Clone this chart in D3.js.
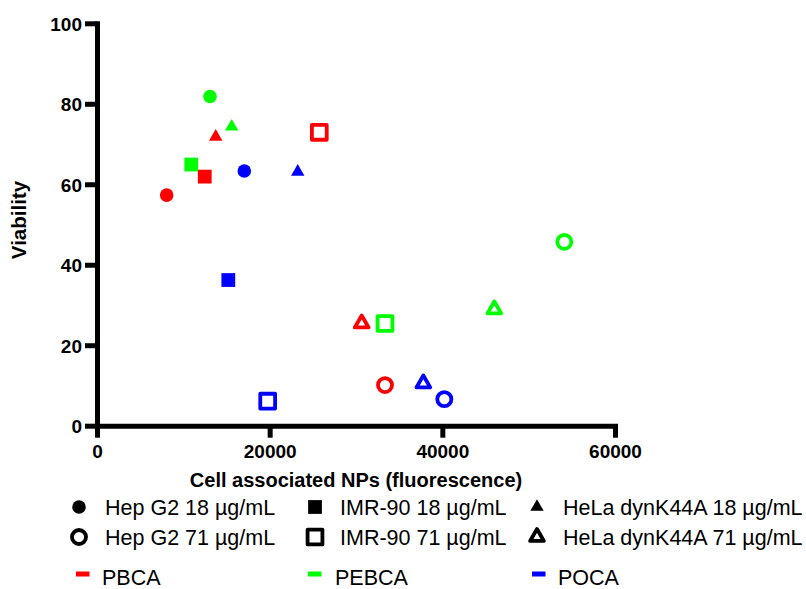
<!DOCTYPE html>
<html>
<head>
<meta charset="utf-8">
<script src="https://cdn.jsdelivr.net/npm/d3@7"></script>
<style>
  body { margin: 0; background: #fff; }
  svg { display: block; font-family: "Liberation Sans", Arial, sans-serif; }
</style>
</head>
<body>
<svg id="chart" width="806" height="589"></svg>
<script>
// polymers -> colours
const polymers = ['PBCA', 'PEBCA', 'POCA'];
const polymerColors = ['#ff0000', '#00ff00', '#0000ff'];

// cell line / dose groups
const groups = [
  'Hep G2 18 µg/mL', 'IMR-90 18 µg/mL', 'HeLa dynK44A 18 µg/mL',
  'Hep G2 71 µg/mL', 'IMR-90 71 µg/mL', 'HeLa dynK44A 71 µg/mL',
];

// values per group, order PBCA, PEBCA, POCA
const hepG2_18_x = [8070, 13090, 17060];
const hepG2_18_y = [57.3, 81.8, 63.3];
const imr90_18_x = [12480, 10920, 15210];
const imr90_18_y = [61.9, 64.9, 36.2];
const hela_18_x = [13750, 15600, 23250];
const hela_18_y = [71.8, 74.3, 63.1];
const hepG2_71_x = [33360, 54130, 40230];
const hepG2_71_y = [10.1, 45.7, 6.6];
const imr90_71_x = [25750, 33360, 19770];
const imr90_71_y = [72.9, 25.4, 6.1];
const hela_71_x = [30660, 46020, 37800];
const hela_71_y = [25.4, 28.9, 10.5];

const xTicks = [0, 20000, 40000, 60000];
const yTicks = [0, 20, 40, 60, 80, 100];

const groupX = [hepG2_18_x, imr90_18_x, hela_18_x, hepG2_71_x, imr90_71_x, hela_71_x];
const groupY = [hepG2_18_y, imr90_18_y, hela_18_y, hepG2_71_y, imr90_71_y, hela_71_y];
const shapes = [d3.symbolCircle, d3.symbolSquare, d3.symbolTriangle];

const svg = d3.select('#chart');

const x = d3.scaleLinear().domain([0, 60000]).range([97, 615]);
const y = d3.scaleLinear().domain([0, 100]).range([425.7, 23.3]);

// marker path for group index g (0-2 filled, 3-5 open)
const marker = (g) => {
  const open = g >= 3;
  const type = shapes[g % 3];
  let size;
  if (type === d3.symbolCircle) size = open ? 155 : 145;
  else if (type === d3.symbolSquare) size = open ? 220 : 190;
  else size = open ? 82 : 78;
  return d3.symbol().type(type).size(size)();
};

const styleMarker = (sel, g, color) => {
  if (g >= 3) {
    sel.attr('fill', 'none').attr('stroke', color)
      .attr('stroke-width', 3.8).attr('stroke-linejoin', 'round');
  } else {
    sel.attr('fill', color);
  }
};

// axes
const yAxis = d3.axisLeft(y).tickValues(yTicks).tickSize(12).tickSizeOuter(0).tickPadding(3);
const xAxis = d3.axisBottom(x).tickValues(xTicks).tickSize(12).tickSizeOuter(0).tickFormat(d3.format('d'));

const gy = svg.append('g').attr('transform', 'translate(97,0)').call(yAxis);
const gx = svg.append('g').attr('transform', 'translate(0,425.7)').call(xAxis);

[gx, gy].forEach((g) => {
  g.select('.domain').attr('stroke', '#000').attr('stroke-width', 5).attr('stroke-linecap', 'square');
  g.selectAll('.tick line').attr('stroke', '#000').attr('stroke-width', 5);
  g.selectAll('.tick text')
    .attr('fill', '#000')
    .style('font-size', '19px')
    .style('font-weight', 'bold')
    .style('font-family', '"Liberation Sans", Arial, sans-serif');
});
gx.selectAll('.tick text').attr('y', 19).attr('dy', '0.71em');
gy.selectAll('.tick text').attr('dy', '0.36em');

// axis titles
svg.append('text')
  .attr('x', 356).attr('y', 487)
  .attr('text-anchor', 'middle')
  .style('font-size', '20px').style('font-weight', 'bold')
  .text('Cell associated NPs (fluorescence)');

svg.append('text')
  .attr('transform', 'translate(26,220) rotate(-90)')
  .attr('text-anchor', 'middle')
  .style('font-size', '20.5px').style('font-weight', 'bold')
  .text('Viability');

// points
groups.forEach((name, g) => {
  polymers.forEach((p, i) => {
    svg.append('path')
      .attr('d', marker(g))
      .attr('transform', `translate(${x(groupX[g][i])},${y(groupY[g][i])})`)
      .call(styleMarker, g, polymerColors[i]);
  });
});

// legend: shapes
const legCols = [[79, 105], [315, 340], [537, 563]];
const legRows = [507, 537];
groups.forEach((name, g) => {
  const [sx, tx] = legCols[g % 3];
  const ly = legRows[Math.floor(g / 3)];
  svg.append('path')
    .attr('d', marker(g))
    .attr('transform', `translate(${sx},${ly})`)
    .call(styleMarker, g, '#000');
  svg.append('text')
    .attr('x', tx).attr('y', ly + 7.5)
    .style('font-size', '21.5px')
    .text(name);
});

// legend: colours
const swatchCols = [[76, 102], [308, 335], [532, 558]];
polymers.forEach((p, i) => {
  const [sx, tx] = swatchCols[i];
  svg.append('rect')
    .attr('x', sx).attr('y', 571.5).attr('width', 13.5).attr('height', 5)
    .attr('fill', polymerColors[i]);
  svg.append('text')
    .attr('x', tx).attr('y', 585)
    .style('font-size', '21.5px')
    .text(p);
});
</script>
</body>
</html>
